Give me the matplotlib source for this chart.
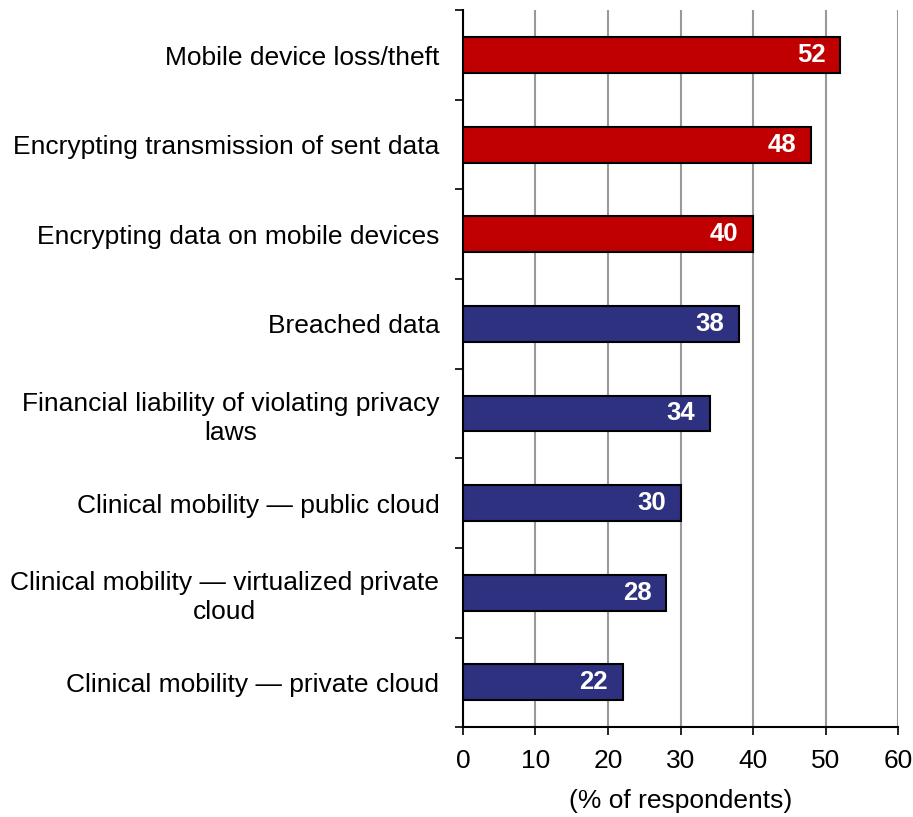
import numpy as np
import matplotlib.pyplot as plt

# data (top to bottom)
categories = ["Mobile device loss/theft",
              "Encrypting transmission of sent data",
              "Encrypting data on mobile devices",
              "Breached data",
              "Financial liability of violating privacy\nlaws",
              "Clinical mobility \u2014 public cloud",
              "Clinical mobility \u2014 virtualized private\ncloud",
              "Clinical mobility \u2014 private cloud"]
values = [52, 48, 40, 38, 34, 30, 28, 22]
highlight = [True, True, True, False, False, False, False, False]

red = "#C00000"
navy = "#2E3180"

plt.rcParams['font.family'] = ['Liberation Sans', 'DejaVu Sans']

fig = plt.figure(figsize=(9.13, 8.17), dpi=100)
ax = fig.add_axes([0.507, 0.110, 0.4768, 0.8775])

n = len(categories)
y = np.arange(n)
colors = [red if h else navy for h in highlight]
ax.barh(y, values, height=0.4, color=colors, edgecolor='black', linewidth=1.5, zorder=3)

# value labels inside bar ends
for yi, v in zip(y, values):
    ax.text(v - 2.0, yi, str(v), ha='right', va='center', color='white',
            fontsize=18.5, fontweight='bold', zorder=4)

ax.set_xlim(0, 60)
ax.set_ylim(n - 0.5, -0.5)
ax.set_xticks(np.arange(0, 61, 10))
ax.tick_params(axis='x', labelsize=19, length=6, width=1.2, direction='out', pad=10)

# category labels at centres, ticks at boundaries
ax.set_yticks(y)
ax.set_yticklabels(categories, fontsize=19, ha='right', multialignment='center',
                   linespacing=1.25)
ax.tick_params(axis='y', length=0, pad=17)
ax.set_yticks(np.arange(-0.5, n, 1), minor=True)
ax.tick_params(axis='y', which='minor', length=6, width=1.2, direction='out')

ax.grid(axis='x', color='#999999', linewidth=1.5, zorder=0)
ax.set_axisbelow(True)
for s in ['top', 'right']:
    ax.spines[s].set_visible(False)
ax.spines['left'].set_linewidth(1.5)
ax.spines['bottom'].set_linewidth(1.5)

ax.set_xlabel("(% of respondents)", fontsize=19, labelpad=11)

fig.savefig("out.png", dpi=100)
